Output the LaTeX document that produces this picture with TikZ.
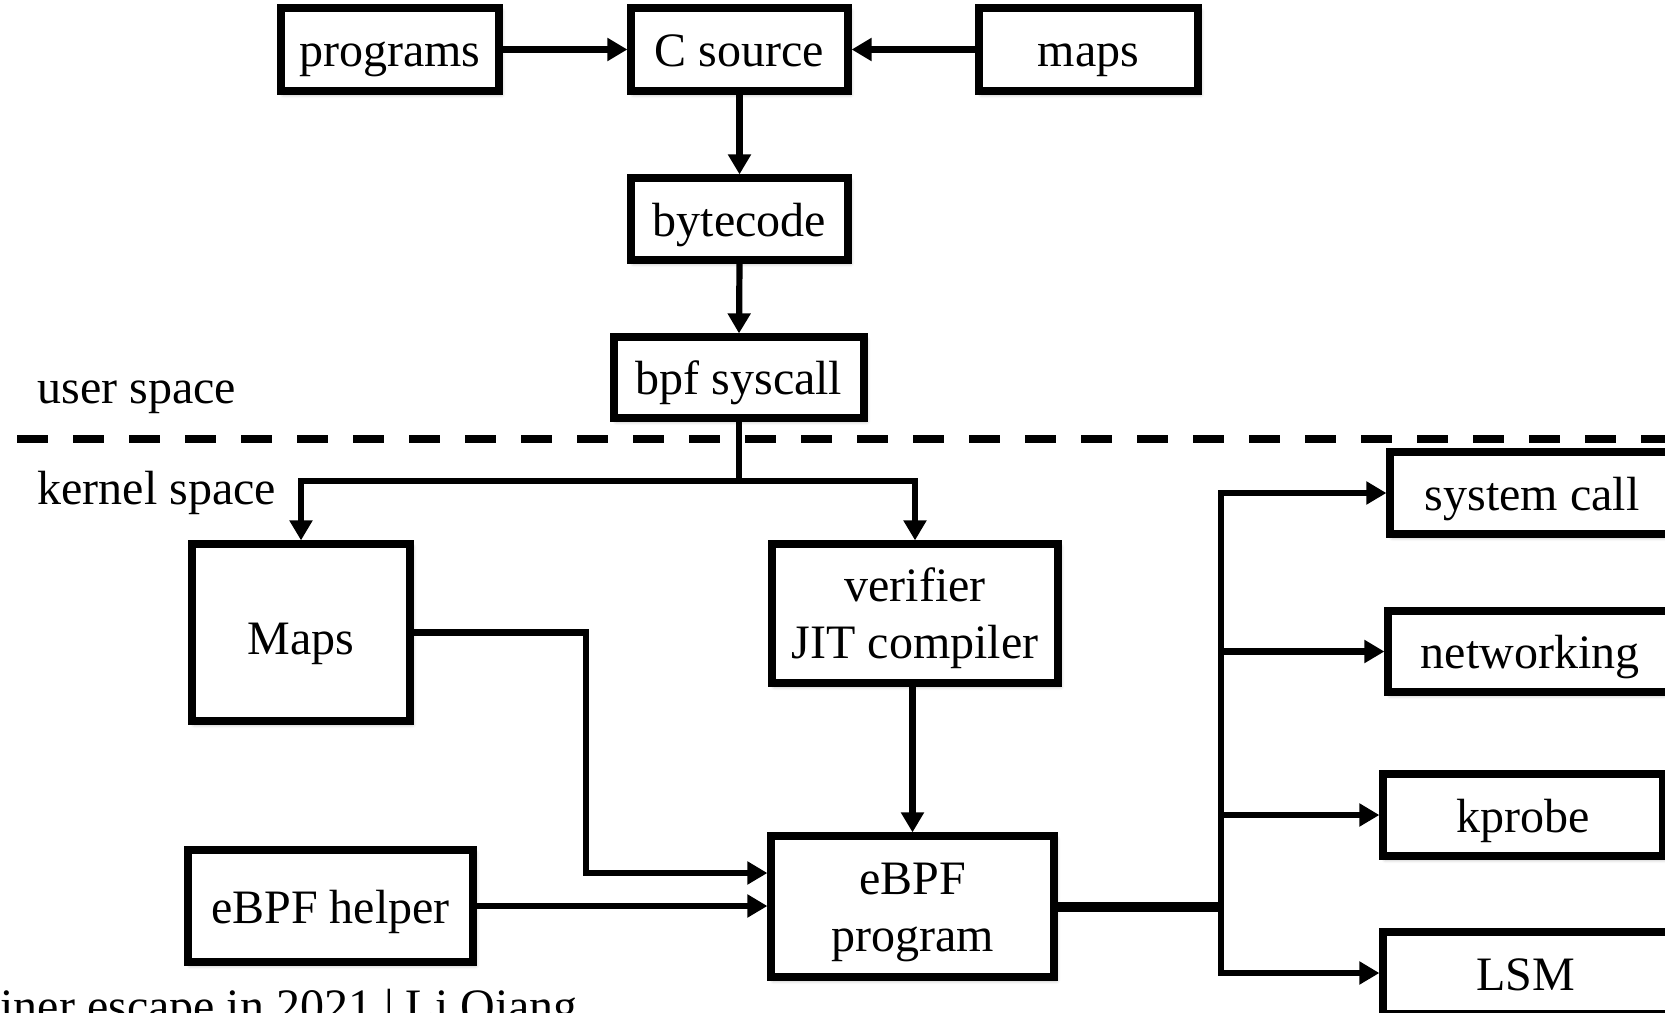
\documentclass[tikz,border=0pt]{standalone}
\usepackage{fontspec}
\setmainfont{Liberation Serif}
\usetikzlibrary{arrows.meta,shadows.blur}
\begin{document}
\begin{tikzpicture}[x=0.5pt,y=-0.5pt,
  every node/.style={font=\fontsize{24}{28.5}\selectfont},
  box/.style={draw=black, line width=3.6pt, fill=white, align=center, inner sep=0pt,
    text height=22pt, text depth=5pt,
    blur shadow={shadow xshift=1.2pt, shadow yshift=-1.6pt, shadow blur radius=2pt, shadow opacity=35}},
  twoline/.style={text height=49.5pt, text depth=5pt},
  conn/.style={line width=3.1pt, line join=miter},
  arr/.style={conn, -{Triangle[length=10pt,width=11pt]}},
  lbl/.style={anchor=base west, inner sep=0pt}]
\useasboundingbox (0,0) rectangle (1665,1012);
\clip (0,0) rectangle (1665,1012);

% dashed separator
\coordinate (dl) at (17,439);
\coordinate (dr) at (1700,439);
\draw[line width=4pt, dash pattern=on 15.5pt off 12.5pt] (dl) -- (dr);

% boxes
\node[box, minimum width=109pt, minimum height=41.5pt] (programs) at (390,49.5) {programs};
\node[box, minimum width=108.5pt, minimum height=41.5pt] (csrc) at (739.5,49.5) {C source};
\node[box, minimum width=109.5pt, minimum height=41.5pt] (maps) at (1088.5,49.5) {maps};
\node[box, minimum width=108.5pt, minimum height=41pt] (bytecode) at (739.5,219) {bytecode};
\node[box, minimum width=125pt, minimum height=40.5pt] (bpfsys) at (739,377.5) {bpf syscall};
\node[box, text height=27pt, minimum width=109pt, minimum height=88.5pt] (kmaps) at (301,632.5) {Maps};
\node[box, twoline, minimum width=143pt, minimum height=69.5pt] (verif) at (915,613.5) {verifier\\JIT compiler};
\node[box, twoline, minimum width=141.5pt, minimum height=70.5pt] (prog) at (912.5,906.5) {eBPF\\program};
\node[box, minimum width=142.5pt, minimum height=56pt] (helper) at (330.5,906) {eBPF helper};
\node[box, minimum width=142pt, minimum height=41pt] (syscall) at (1532,493) {system call};
\node[box, minimum width=142pt, minimum height=40.5pt] (netw) at (1530,651.5) {networking};
\node[box, minimum width=140pt, minimum height=41pt] (kprobe) at (1523,815) {kprobe};
\node[box, minimum width=143pt, minimum height=41pt] (lsm) at (1526,973) {LSM};

% labels
\node[lbl] (user) at (37,403) {user space};
\node[lbl] (kernel) at (37,504) {kernel space};
\node[lbl] (credit) at (0,1022) {iner escape in 2021 | Li Qiang};

% connectors (user space)
\draw[arr] (programs.east) -- (csrc.west);
\draw[arr] (maps.west) -- (csrc.east);
\draw[arr] (csrc.south) -- (bytecode.north);
\draw[arr] (bytecode.south) -- (bpfsys.north);

% syscall split
\coordinate (split) at (739,481);
\draw[conn] (bpfsys.south) -- (split);
\draw[arr] (split) -| (kmaps.north);
\draw[arr] (split) -| (verif.north);

% into eBPF program
\coordinate (mbend) at (586,873);
\draw[arr] (kmaps.east) -| (mbend) -- (prog.west |- mbend);
\draw[arr] (helper.east) -- (prog.west |- helper.east);
\draw[arr] (verif.south -| prog.north) -- (prog.north);

% fan-out
\coordinate (bj) at (1221,906.5);
\draw[line width=5pt] (prog.east) -- (bj);
\draw[arr] (bj) |- (syscall.west);
\draw[arr] (bj) |- (netw.west);
\draw[arr] (bj) |- (kprobe.west);
\draw[arr] (bj) |- (lsm.west);
\end{tikzpicture}
\end{document}
